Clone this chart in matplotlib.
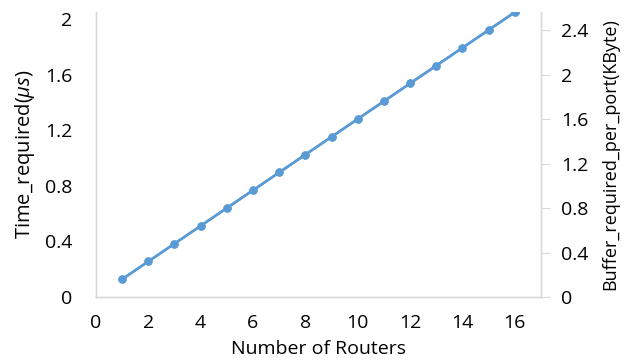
import matplotlib
matplotlib.use('Agg')
import matplotlib.pyplot as plt

# data
routers = list(range(1, 17))
time_us = [0.128 * n for n in routers]        # left axis
buffer_kb = [0.16 * n for n in routers]       # right axis

x_ticks = [0, 2, 4, 6, 8, 10, 12, 14, 16]
y_left_ticks = [0, 0.4, 0.8, 1.2, 1.6, 2]
y_right_ticks = [0, 0.4, 0.8, 1.2, 1.6, 2, 2.4]

plt.rcParams['font.family'] = ['Open Sans', 'DejaVu Sans']
plt.rcParams['mathtext.fontset'] = 'custom'
plt.rcParams['mathtext.it'] = 'Open Sans:italic'
blue = '#5b9bd5'
grey = '#d9d9d9'

fig = plt.figure(figsize=(6.35, 3.61), dpi=100)
ax = fig.add_axes([0.151, 0.177, 0.701, 0.79])
ax2 = ax.twinx()

ax.plot(routers, time_us, color=blue, linewidth=1.8, marker='o', markersize=5)
ax2.plot(routers, buffer_kb, color=blue, linewidth=1.8, marker='o', markersize=5)

ax.set_xlim(0, 17)
ax.set_ylim(0, 2.05)
ax2.set_ylim(0, 2.5625)

ax.set_xticks(x_ticks)
ax.set_xticklabels([str(v) for v in x_ticks])
ax.set_yticks(y_left_ticks)
ax.set_yticklabels(['0', '0.4', '0.8', '1.2', '1.6', '2'])
ax2.set_yticks(y_right_ticks)
ax2.set_yticklabels(['0', '0.4', '0.8', '1.2', '1.6', '2', '2.4'])

for a in (ax, ax2):
    a.spines['top'].set_visible(False)
    for side in ('left', 'bottom', 'right'):
        a.spines[side].set_color(grey)
        a.spines[side].set_linewidth(1)

ax.tick_params(axis='x', length=0, pad=12, labelsize=14)
ax.tick_params(axis='y', length=0, pad=17, labelsize=14)
ax2.tick_params(axis='y', length=6.5, color=grey, pad=8, labelsize=14)

ax.set_xlabel('Number of Routers', fontsize=14, labelpad=6)
ax.set_ylabel(r'Time_required($\mu s$)', fontsize=14.5, labelpad=6)
ax2.set_ylabel('Buffer_required_per_port(KByte)', fontsize=13, labelpad=9)

fig.savefig('out.png', dpi=100)
